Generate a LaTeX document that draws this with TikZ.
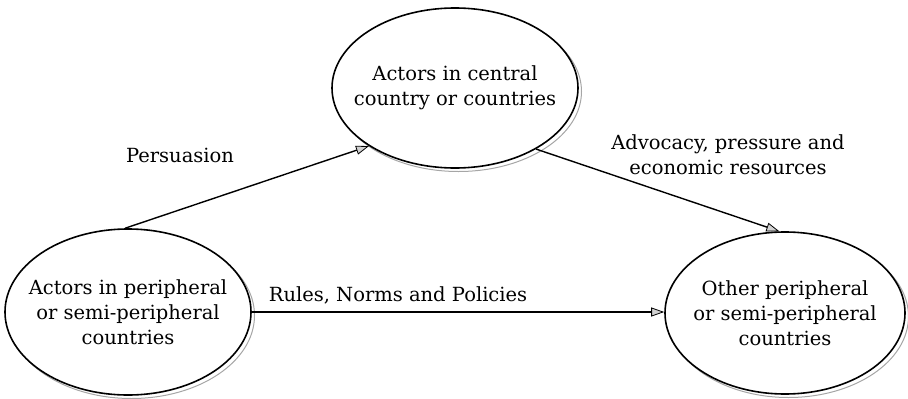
\documentclass[tikz,border=0pt]{standalone}
\usepackage{fontspec}
\setmainfont{DejaVu Serif}
\usetikzlibrary{arrows.meta,shapes.geometric,shadows}
\begin{document}
\begin{tikzpicture}[x=1pt,y=-1pt,
  actor/.style={ellipse,draw=black,line width=1.6pt,fill=white,inner xsep=-30pt,inner ysep=-20pt,align=center,
    font=\fontsize{19.5}{25}\selectfont,
    drop shadow={shadow xshift=3.5pt,shadow yshift=-3.5pt,fill=none,draw=gray!70,line width=1pt,opacity=1}},
  flow/.style={line width=1.4pt,-{Triangle[length=13pt,width=9pt,fill=gray!35,line width=0.8pt]}},
  lbl/.style={align=center,inner sep=0pt,font=\fontsize{19.5}{25}\selectfont}]
\useasboundingbox (0,0) rectangle (908,399);
\node[actor,minimum width=246pt,minimum height=160pt] (T) at (455,88) {Actors in central\\country or countries};
\node[actor,minimum width=246pt,minimum height=166pt] (L) at (128,312) {Actors in peripheral\\or semi-peripheral\\countries};
\node[actor,minimum width=240pt,minimum height=162pt] (R) at (785,313) {Other peripheral\\or semi-peripheral\\countries};
\draw[flow] (L.92) -- (T.214);
\draw[flow] (T.-37) -- (R.94);
\draw[flow] (L.east) -- (L.east -| R.west);
\node[lbl] (p) at (180,155) {Persuasion};
\node[lbl] (a) at (728,155) {Advocacy, pressure and\\economic resources};
\node[lbl] (r) at (398,295) {Rules, Norms and Policies};
\end{tikzpicture}
\end{document}
